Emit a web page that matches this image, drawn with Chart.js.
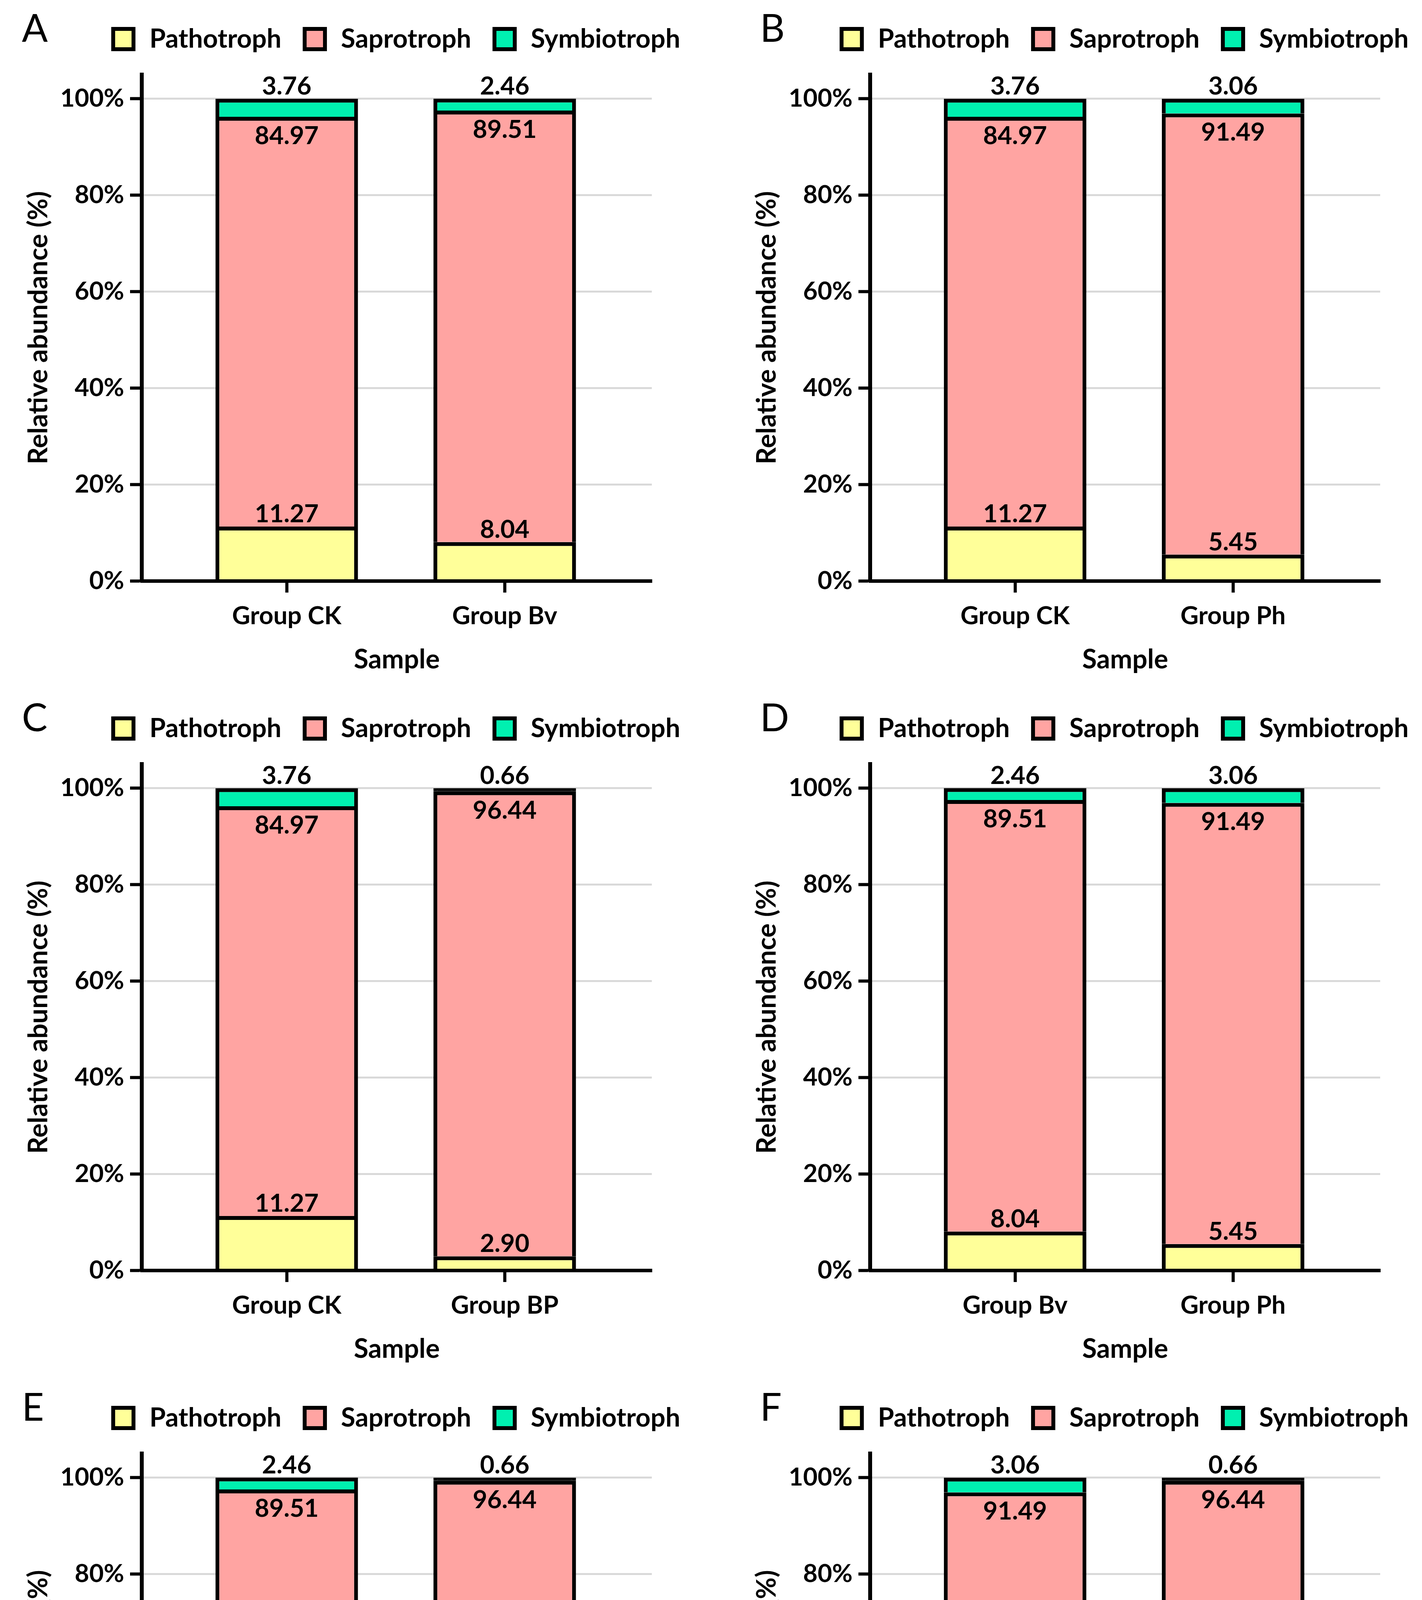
<!DOCTYPE html>
<html><head><meta charset="utf-8">
<script src="https://cdn.jsdelivr.net/npm/chart.js@4.4.1/dist/chart.umd.min.js"></script>
<style>
html,body{margin:0;padding:0;background:#fff;}
body{width:3641px;height:5276px;position:relative;overflow:hidden;}
canvas{position:absolute;}
.letter{position:absolute;font-family:Lato,sans-serif;font-weight:400;font-size:98px;line-height:1;color:#000;}
</style></head><body>
<script>
// ---- data ----
const groups = ['Group CK', 'Group Bv', 'Group Ph', 'Group BP'];
const pathotroph = [11.27, 8.04, 5.45, 2.90];
const saprotroph = [84.97, 89.51, 91.49, 96.44];
const symbiotroph = [3.76, 2.46, 3.06, 0.66];
const seriesNames = ['Pathotroph', 'Saprotroph', 'Symbiotroph'];
const panelLetters = ['A', 'B', 'C', 'D', 'E', 'F'];
const panelPairs = [[0, 1], [0, 2], [0, 3], [1, 2], [1, 3], [2, 3]];
const yTickValues = [0, 20, 40, 60, 80, 100];
const yTitle = 'Relative abundance (%)';
const xTitle = 'Sample';

// ---- layout / style ----
const CW = 1776, CH = 1740;
const colX = [0, 1865], rowY = [0, 1765, 3530];
const letterX = [56, 1946];
const AREA = {left: 363, right: 1669, top: 191, bottom: 1487};
const FS = 64, LEG_FS = 67, TITLE_FS = 68, LEG_PAD = 52;
const colors = ['#FFFF99', '#FFA4A2', '#00F0B0'];
const BORDER = 10;

Chart.defaults.font.family = 'Lato';
Chart.defaults.font.size = FS;
Chart.defaults.font.weight = 'bold';
Chart.defaults.color = '#000';

const legendPlace = {
  id: 'legendPlace',
  afterLayout(chart, args, opts) {
    const lg = chart.legend;
    if (!lg) return;
    const ca = chart.chartArea;
    const mid = (ca.left + ca.right) / 2 + opts.shiftX;
    const w = lg.width, h = lg.height;
    lg.left = mid - w / 2; lg.right = mid + w / 2;
    lg.top = opts.centerY - LEG_PAD - LEG_FS / 2; lg.bottom = lg.top + h;
  }
};

const barValues = {
  id: 'barValues',
  afterDatasetsDraw(chart, args, opts) {
    const ctx = chart.ctx;
    ctx.save();
    ctx.font = 'bold ' + FS + 'px Lato';
    ctx.fillStyle = '#000';
    ctx.textAlign = 'center';
    ctx.textBaseline = 'alphabetic';
    chart.data.datasets.forEach((ds, di) => {
      const meta = chart.getDatasetMeta(di);
      meta.data.forEach((el, i) => {
        const v = ds.data[i].y;
        const y = di === 1 ? el.y + opts.below : el.y - opts.above;
        ctx.fillText(v.toFixed(2), el.x, y);
      });
    });
    ctx.restore();
  }
};

function makePanel(k) {
  const idx = panelPairs[k];
  const col = k % 2, row = Math.floor(k / 2);
  const canvas = document.createElement('canvas');
  canvas.width = CW; canvas.height = CH;
  canvas.style.left = colX[col] + 'px';
  canvas.style.top = rowY[row] + 'px';
  canvas.style.width = CW + 'px';
  canvas.style.height = CH + 'px';
  document.body.appendChild(canvas);

  const letter = document.createElement('div');
  letter.className = 'letter';
  letter.textContent = panelLetters[k];
  letter.style.left = letterX[col] + 'px';
  letter.style.top = (rowY[row] + 20) + 'px';
  document.body.appendChild(letter);

  const sets = [pathotroph, saprotroph, symbiotroph];
  const datasets = sets.map((arr, s) => ({
    label: seriesNames[s],
    data: idx.map((g, i) => ({x: i, y: arr[g]})),
    // a segment thinner than its outline renders as solid outline colour
    backgroundColor: (c) => (c.raw && c.chart.scales.y &&
      Math.abs(c.chart.scales.y.getPixelForValue(0) - c.chart.scales.y.getPixelForValue(c.raw.y)) < BORDER) ? '#000' : colors[s],
    borderColor: '#000',
    borderWidth: BORDER,
    borderSkipped: 'bottom',
    stack: 'all',
    barPercentage: 0.654,
    categoryPercentage: 1
  }));

  new Chart(canvas, {
    type: 'bar',
    data: {datasets},
    plugins: [legendPlace, barValues],
    options: {
      responsive: false,
      animation: false,
      devicePixelRatio: 1,
      layout: {padding: {left: 0, right: CW - AREA.right, top: AREA.top - (LEG_FS + LEG_PAD + 10), bottom: 0}},
      scales: {
        x: {
          type: 'linear', min: -0.665, max: 1.675, offset: false,
          afterBuildTicks: s => { s.ticks = idx.map((g, i) => ({value: i})); },
          afterFit: s => { s.height = CH - AREA.bottom; },
          ticks: {callback: (v) => groups[idx[v]], padding: 22, autoSkip: false, maxRotation: 0, color: '#000'},
          grid: {offset: false, drawOnChartArea: false, drawTicks: true, tickLength: 30, tickWidth: 8, tickColor: '#000', color: 'rgba(0,0,0,0)'},
          border: {display: true, color: '#000', width: 9, z: 1},
          title: {display: true, text: xTitle, font: {size: TITLE_FS}, padding: {top: 0, bottom: 10}, color: '#000'}
        },
        y: {
          type: 'linear', min: 0, max: 105, stacked: true,
          afterBuildTicks: s => { s.ticks = yTickValues.map(v => ({value: v})); },
          afterFit: s => { s.width = AREA.left; },
          ticks: {callback: v => v + '%', padding: 15, color: '#000'},
          grid: {color: '#D9D9D9', lineWidth: 5, tickColor: '#000', tickWidth: 8, tickLength: 30},
          border: {display: true, color: '#000', width: 10, z: 1},
          title: {display: true, text: yTitle, font: {size: TITLE_FS}, padding: {top: 58, bottom: 0}, color: '#000'}
        }
      },
      plugins: {
        legend: {
          position: 'top', align: 'center',
          labels: {usePointStyle: true, pointStyle: 'rect', boxWidth: LEG_FS, boxHeight: 52, padding: LEG_PAD, color: '#000', font: {size: LEG_FS, weight: 'bold'}}
        },
        tooltip: {enabled: false},
        legendPlace: {centerY: 100, shiftX: -4},
        barValues: {above: 11, below: 70}
      }
    }
  });
}

for (let k = 0; k < 6; k++) makePanel(k);
</script>
</body></html>
